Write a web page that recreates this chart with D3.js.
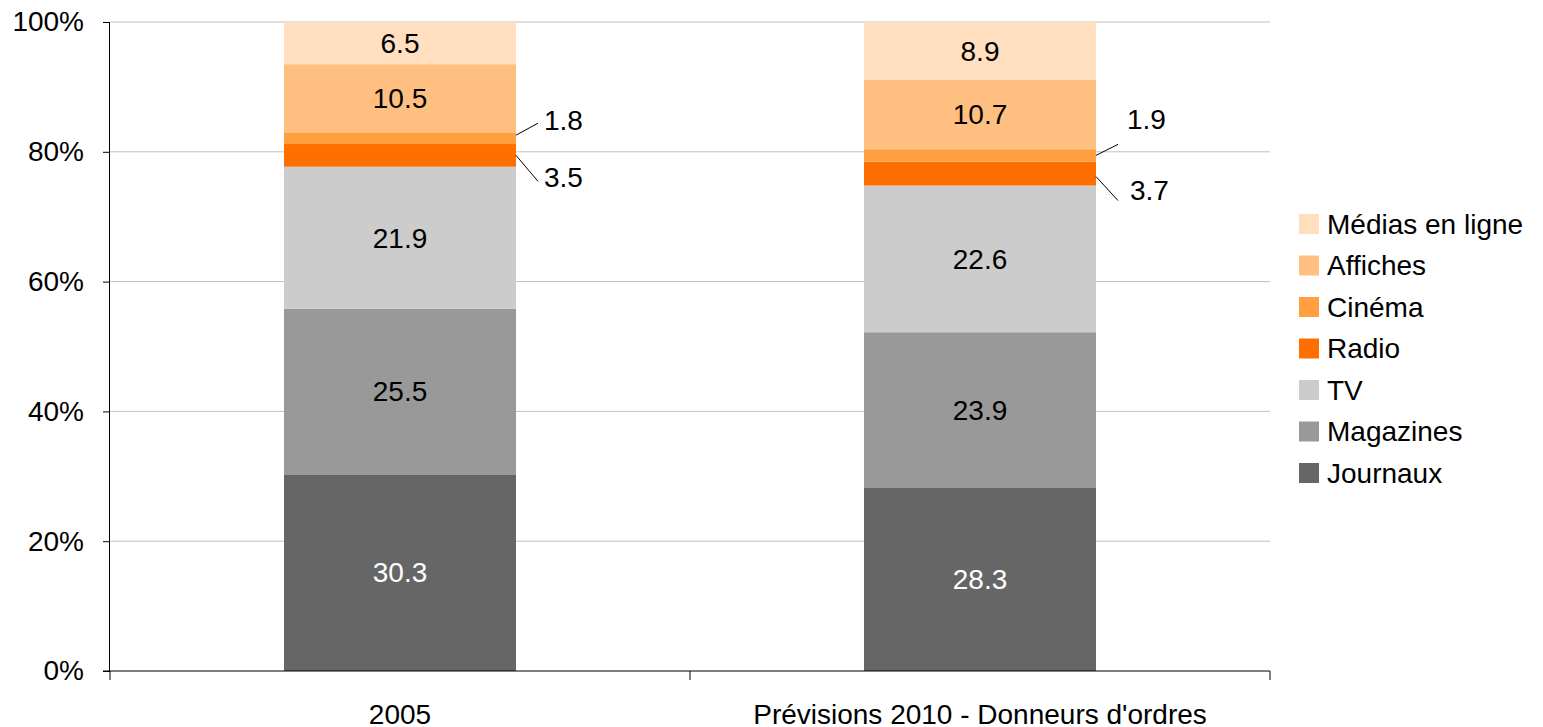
<!DOCTYPE html>
<html>
<head>
<meta charset="utf-8">
<script src="https://cdn.jsdelivr.net/npm/d3@7"></script>
<style>
  body { margin: 0; background: #fff; }
  text { font-family: "Liberation Sans", Arial, sans-serif; }
</style>
</head>
<body>
<div id="chart"></div>
<script>
const categories = ["2005", "Prévisions 2010 - Donneurs d'ordres"];
const seriesNames = ["Journaux", "Magazines", "TV", "Radio", "Cinéma", "Affiches", "Médias en ligne"];
const journaux = [30.3, 28.3];
const magazines = [25.5, 23.9];
const tv = [21.9, 22.6];
const radio = [3.5, 3.7];
const cinema = [1.8, 1.9];
const affiches = [10.5, 10.7];
const mediasEnLigne = [6.5, 8.9];
const yTicks = [0, 20, 40, 60, 80, 100];

const colors = ["#666666", "#999999", "#cccccc", "#ff6f00", "#ff9f40", "#ffbf80", "#ffdfbf"];
const seriesValues = [journaux, magazines, tv, radio, cinema, affiches, mediasEnLigne];

const width = 1543, height = 727;
const margin = {top: 22, right: 273, bottom: 56, left: 110};
const FONT = 28;

let svg = d3.select("#chart").append("svg")
  .attr("width", width)
  .attr("height", height);

let x = d3.scaleBand()
  .domain(categories)
  .range([margin.left, width - margin.right])
  .paddingInner(0.6)
  .paddingOuter(0.3);

let y = d3.scaleLinear()
  .domain([0, 100])
  .range([height - margin.bottom, margin.top]);

// build rows for the stack
let table = categories.map((c, i) => {
  let row = {cat: c};
  seriesNames.forEach((s, j) => row[s] = seriesValues[j][i]);
  return row;
});
let stacked = d3.stack().keys(seriesNames)(table);

// gridlines
svg.append("g")
  .selectAll("line")
  .data(yTicks.filter(d => d > 0))
  .enter().append("line")
  .attr("x1", margin.left).attr("x2", width - margin.right)
  .attr("y1", d => y(d)).attr("y2", d => y(d))
  .attr("stroke", "#c0c0c0").attr("stroke-width", 1);

// bars
let layers = svg.append("g").selectAll("g")
  .data(stacked)
  .enter().append("g")
  .attr("fill", (d, i) => colors[i]);

layers.selectAll("rect")
  .data(d => d)
  .enter().append("rect")
  .attr("x", d => x(d.data.cat))
  .attr("y", d => y(d[1]))
  .attr("width", x.bandwidth())
  .attr("height", d => y(d[0]) - y(d[1]));

// thin segments get a leader line + label outside the bar
// offsets relative to the segment middle: [line start dy, line end dy, label dx, label dy]
const callouts = {
  "Cinéma": [[-3, -15, 6, -18], [0, -11, 9, -36]],
  "Radio": [[0, 26, 6, 22], [3, 27, 12, 17]]
};

stacked.forEach(layer => {
  let key = layer.key;
  layer.forEach((d, ci) => {
    let cx = x(d.data.cat) + x.bandwidth() / 2;
    let mid = y((d[0] + d[1]) / 2);
    let val = d.data[key];
    if (!callouts[key]) {
      svg.append("text")
        .attr("x", cx)
        .attr("y", mid)
        .attr("dy", "0.35em")
        .attr("text-anchor", "middle")
        .attr("font-size", FONT)
        .attr("fill", key === "Journaux" ? "#ffffff" : "#000000")
        .text(val.toFixed(1));
    } else {
      let o = callouts[key][ci];
      let edge = x(d.data.cat) + x.bandwidth();
      let ex = edge + 22;
      svg.append("line")
        .attr("x1", edge).attr("y1", mid + o[0])
        .attr("x2", ex).attr("y2", mid + o[1])
        .attr("stroke", "#000").attr("stroke-width", 1);
      svg.append("text")
        .attr("x", ex + o[2])
        .attr("y", mid + o[3])
        .attr("dy", "0.35em")
        .attr("font-size", FONT)
        .attr("fill", "#000")
        .text(val.toFixed(1));
    }
  });
});

// y axis
let yAxis = svg.append("g")
  .attr("transform", `translate(${margin.left},0)`)
  .call(d3.axisLeft(y).tickValues(yTicks).tickFormat(d => d + "%").tickSize(7).tickPadding(19));
yAxis.select(".domain").attr("stroke", "#000").attr("d", `M-0.5,${y(0)}V${y(100)}`);
yAxis.selectAll(".tick line").attr("stroke", "#000");
yAxis.selectAll("text").attr("font-size", FONT).attr("fill", "#000")
  .style("font-family", "'Liberation Sans', Arial, sans-serif");

// x axis
let xg = svg.append("g");
xg.append("line")
  .attr("x1", margin.left - 7).attr("x2", width - margin.right)
  .attr("y1", y(0)).attr("y2", y(0))
  .attr("stroke", "#000");
let step = x.step();
let bounds = [margin.left, margin.left + step, margin.left + 2 * step];
xg.selectAll(".xt")
  .data(bounds)
  .enter().append("line")
  .attr("x1", d => d).attr("x2", d => d)
  .attr("y1", y(0)).attr("y2", y(0) + 9)
  .attr("stroke", "#000");
xg.selectAll(".xl")
  .data(categories)
  .enter().append("text")
  .attr("x", d => x(d) + x.bandwidth() / 2)
  .attr("y", y(0) + 43)
  .attr("dy", "0.35em")
  .attr("text-anchor", "middle")
  .attr("font-size", FONT)
  .text(d => d);

// legend (top-down reversed order)
let legendItems = seriesNames.map((s, i) => ({name: s, color: colors[i]})).reverse();
let legend = svg.append("g").attr("transform", "translate(1299,214)");
legendItems.forEach((d, i) => {
  let g = legend.append("g").attr("transform", `translate(0,${i * 41.5})`);
  g.append("rect").attr("width", 20).attr("height", 20).attr("fill", d.color);
  g.append("text").attr("x", 28).attr("y", 10).attr("dy", "0.35em")
    .attr("font-size", FONT).text(d.name);
});
</script>
</body>
</html>
